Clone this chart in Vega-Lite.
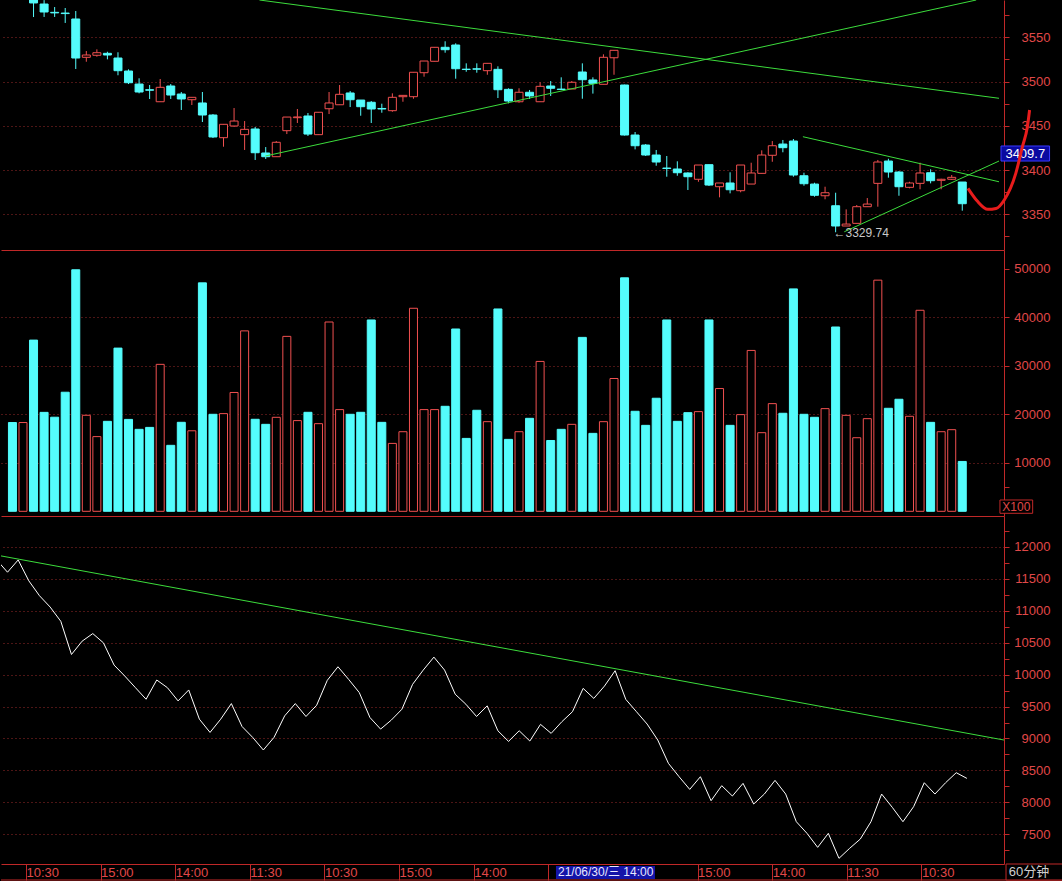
{
"$schema": "https://vega.github.io/schema/vega-lite/v6.json",
"background": "#000000",
"padding": 0,
"spacing": 0,
"bounds": "flush",
"config": {"view": {"stroke": null}, "font": "Liberation Sans",
  "axis": {"labelFont": "Liberation Sans", "labelFontSize": 13, "labelColor": "#E04848", "domainColor": "#C02828", "tickColor": "#C02828", "gridColor": "#9A2A2A", "gridDash": [1, 3], "labelOverlap": false, "labelFlush": false, "labelBound": false}},
"resolve": {"scale": {"x": "independent", "y": "independent"}},
"datasets": {
"k": [
{"i":0,"o":3615,"h":3618,"l":3601,"c":3605,"v":18300,"d":"dn"},
{"i":1,"o":3600,"h":3608,"l":3596,"c":3604,"v":18300,"d":"up"},
{"i":2,"o":3597,"h":3600,"l":3572.9,"c":3588.8,"v":35300,"d":"dn"},
{"i":3,"o":3587.6,"h":3592,"l":3573,"c":3578.6,"v":20400,"d":"dn"},
{"i":4,"o":3578.2,"h":3584.2,"l":3573,"c":3577.6,"v":19400,"d":"dn"},
{"i":5,"o":3577.4,"h":3583.1,"l":3566.2,"c":3576.8,"v":24550,"d":"dn"},
{"i":6,"o":3570.7,"h":3579.7,"l":3514.2,"c":3526.6,"v":49800,"d":"dn"},
{"i":7,"o":3527.4,"h":3534.5,"l":3522.4,"c":3530,"v":19800,"d":"up"},
{"i":8,"o":3529.7,"h":3536.4,"l":3528.1,"c":3532.6,"v":15400,"d":"up"},
{"i":9,"o":3531.9,"h":3533.7,"l":3525.1,"c":3530,"v":18550,"d":"dn"},
{"i":10,"o":3526.6,"h":3533.1,"l":3507.1,"c":3512.3,"v":33650,"d":"dn"},
{"i":11,"o":3511.9,"h":3513.8,"l":3497.2,"c":3498.7,"v":18950,"d":"dn"},
{"i":12,"o":3497.2,"h":3503.7,"l":3486.7,"c":3488.2,"v":16900,"d":"dn"},
{"i":13,"o":3490.8,"h":3496.1,"l":3480.3,"c":3490.2,"v":17300,"d":"dn"},
{"i":14,"o":3477.2,"h":3502.9,"l":3477.2,"c":3493.5,"v":30300,"d":"up"},
{"i":15,"o":3495,"h":3497.2,"l":3480.3,"c":3484.8,"v":13600,"d":"dn"},
{"i":16,"o":3485.9,"h":3488.2,"l":3467.9,"c":3480.3,"v":18350,"d":"dn"},
{"i":17,"o":3479.5,"h":3482.2,"l":3473.5,"c":3482.2,"v":16600,"d":"up"},
{"i":18,"o":3475.8,"h":3488.2,"l":3454.3,"c":3462.2,"v":47100,"d":"dn"},
{"i":19,"o":3462.2,"h":3463.3,"l":3436.2,"c":3437.4,"v":20000,"d":"dn"},
{"i":20,"o":3436.6,"h":3452,"l":3426.4,"c":3451.7,"v":20140,"d":"up"},
{"i":21,"o":3449.8,"h":3470.1,"l":3448.7,"c":3455.4,"v":24500,"d":"up"},
{"i":22,"o":3440,"h":3455.4,"l":3422.7,"c":3446,"v":37200,"d":"up"},
{"i":23,"o":3446.4,"h":3448.7,"l":3411.4,"c":3419.6,"v":18970,"d":"dn"},
{"i":24,"o":3419.3,"h":3426,"l":3412.5,"c":3415.1,"v":17930,"d":"dn"},
{"i":25,"o":3415.1,"h":3432.8,"l":3415.1,"c":3431.4,"v":19380,"d":"up"},
{"i":26,"o":3444.5,"h":3459.9,"l":3440.7,"c":3459.9,"v":36070,"d":"up"},
{"i":27,"o":3459.2,"h":3469,"l":3453.2,"c":3460,"v":18700,"d":"up"},
{"i":28,"o":3461.1,"h":3464.5,"l":3438.5,"c":3440.7,"v":20410,"d":"dn"},
{"i":29,"o":3440,"h":3465.3,"l":3440,"c":3465.3,"v":18070,"d":"up"},
{"i":30,"o":3469.3,"h":3488.2,"l":3463.3,"c":3475.8,"v":39030,"d":"up"},
{"i":31,"o":3473.8,"h":3496.1,"l":3473.8,"c":3485.6,"v":20970,"d":"up"},
{"i":32,"o":3487.1,"h":3489.3,"l":3471.2,"c":3479.5,"v":20000,"d":"dn"},
{"i":33,"o":3479.1,"h":3479.1,"l":3461.4,"c":3471.6,"v":20410,"d":"dn"},
{"i":34,"o":3476.6,"h":3478,"l":3453.2,"c":3469,"v":39450,"d":"dn"},
{"i":35,"o":3469.6,"h":3475,"l":3464.8,"c":3469,"v":18340,"d":"dn"},
{"i":36,"o":3467.1,"h":3486.7,"l":3465.9,"c":3482.2,"v":14000,"d":"up"},
{"i":37,"o":3482.9,"h":3484.4,"l":3477.2,"c":3484.4,"v":16410,"d":"up"},
{"i":38,"o":3482.9,"h":3510.5,"l":3480.6,"c":3510.5,"v":41860,"d":"up"},
{"i":39,"o":3510,"h":3523.2,"l":3505.5,"c":3523.2,"v":20970,"d":"up"},
{"i":40,"o":3522.9,"h":3538.7,"l":3522.9,"c":3538.7,"v":20970,"d":"up"},
{"i":41,"o":3538.7,"h":3545.5,"l":3532.6,"c":3536,"v":21650,"d":"dn"},
{"i":42,"o":3541.3,"h":3543.2,"l":3503.2,"c":3514.5,"v":37590,"d":"dn"},
{"i":43,"o":3514,"h":3520.6,"l":3511.1,"c":3513.6,"v":15030,"d":"dn"},
{"i":44,"o":3514.4,"h":3520.6,"l":3510,"c":3514,"v":20830,"d":"dn"},
{"i":45,"o":3512.3,"h":3520.6,"l":3507.7,"c":3520.6,"v":18480,"d":"up"},
{"i":46,"o":3513.8,"h":3517.2,"l":3481.4,"c":3490.8,"v":41720,"d":"dn"},
{"i":47,"o":3491.2,"h":3492.4,"l":3475.4,"c":3478,"v":14830,"d":"dn"},
{"i":48,"o":3477.2,"h":3492.4,"l":3476.1,"c":3487.9,"v":16410,"d":"up"},
{"i":49,"o":3487.9,"h":3490.5,"l":3480.3,"c":3483.7,"v":19170,"d":"dn"},
{"i":50,"o":3477.2,"h":3499.2,"l":3477.2,"c":3494.6,"v":30900,"d":"up"},
{"i":51,"o":3495,"h":3500.6,"l":3483.7,"c":3492.4,"v":14600,"d":"dn"},
{"i":52,"o":3491.5,"h":3504.8,"l":3490.5,"c":3491,"v":16900,"d":"dn"},
{"i":53,"o":3491.6,"h":3500.6,"l":3491.6,"c":3499.2,"v":17930,"d":"up"},
{"i":54,"o":3510.8,"h":3520.6,"l":3480.6,"c":3502.1,"v":35860,"d":"dn"},
{"i":55,"o":3501.8,"h":3504.8,"l":3486.4,"c":3498,"v":16070,"d":"dn"},
{"i":56,"o":3496.9,"h":3530.8,"l":3496.9,"c":3527.4,"v":18480,"d":"up"},
{"i":57,"o":3526.9,"h":3535.3,"l":3507.7,"c":3535.3,"v":27380,"d":"up"},
{"i":58,"o":3496.1,"h":3496.5,"l":3439,"c":3439.6,"v":48140,"d":"dn"},
{"i":59,"o":3439.6,"h":3443,"l":3423.4,"c":3427.5,"v":20620,"d":"dn"},
{"i":60,"o":3428.3,"h":3429.4,"l":3415.9,"c":3417,"v":17720,"d":"dn"},
{"i":61,"o":3417,"h":3422.7,"l":3404.9,"c":3409.1,"v":23310,"d":"dn"},
{"i":62,"o":3402.3,"h":3415.9,"l":3392.5,"c":3401.8,"v":39450,"d":"dn"},
{"i":63,"o":3401.2,"h":3409.9,"l":3393.6,"c":3397,"v":18550,"d":"dn"},
{"i":64,"o":3396.7,"h":3397.5,"l":3377.5,"c":3392.5,"v":20340,"d":"dn"},
{"i":65,"o":3389.6,"h":3405.7,"l":3386.8,"c":3405.7,"v":20550,"d":"up"},
{"i":66,"o":3406.1,"h":3406.1,"l":3382,"c":3383.1,"v":39450,"d":"dn"},
{"i":67,"o":3381.2,"h":3385.4,"l":3369.2,"c":3385.4,"v":25310,"d":"up"},
{"i":68,"o":3385.4,"h":3397.5,"l":3373.7,"c":3377.8,"v":17720,"d":"dn"},
{"i":69,"o":3376.7,"h":3405.7,"l":3374.9,"c":3405.7,"v":19930,"d":"up"},
{"i":70,"o":3384.2,"h":3408.3,"l":3384.2,"c":3396.7,"v":33170,"d":"up"},
{"i":71,"o":3396.3,"h":3422.3,"l":3396.3,"c":3417,"v":16210,"d":"up"},
{"i":72,"o":3416.7,"h":3432.8,"l":3409.4,"c":3427.5,"v":22200,"d":"up"},
{"i":73,"o":3429.4,"h":3434,"l":3420.1,"c":3425.3,"v":20210,"d":"dn"},
{"i":74,"o":3432.8,"h":3435.1,"l":3392.5,"c":3394.4,"v":45860,"d":"dn"},
{"i":75,"o":3393.6,"h":3397,"l":3382.3,"c":3384.6,"v":20000,"d":"dn"},
{"i":76,"o":3384.2,"h":3385.7,"l":3369.9,"c":3371.5,"v":19380,"d":"dn"},
{"i":77,"o":3371,"h":3381.2,"l":3367,"c":3374.4,"v":21170,"d":"up"},
{"i":78,"o":3359.7,"h":3374.4,"l":3329.74,"c":3336.8,"v":38000,"d":"dn"},
{"i":79,"o":3336.8,"h":3355.6,"l":3336.8,"c":3339,"v":19790,"d":"up"},
{"i":80,"o":3339.8,"h":3360.5,"l":3339.8,"c":3358.6,"v":15170,"d":"up"},
{"i":81,"o":3358.6,"h":3368.4,"l":3358.6,"c":3361.6,"v":19100,"d":"up"},
{"i":82,"o":3385,"h":3411.4,"l":3358.6,"c":3409.1,"v":47660,"d":"up"},
{"i":83,"o":3410.2,"h":3412.8,"l":3391.4,"c":3397.8,"v":21240,"d":"dn"},
{"i":84,"o":3397.8,"h":3398.9,"l":3371,"c":3381.2,"v":23100,"d":"dn"},
{"i":85,"o":3380.5,"h":3386.8,"l":3379.4,"c":3385.4,"v":19590,"d":"up"},
{"i":86,"o":3385,"h":3408.3,"l":3378.3,"c":3396.7,"v":41450,"d":"up"},
{"i":87,"o":3397,"h":3400.9,"l":3385,"c":3388,"v":18340,"d":"dn"},
{"i":88,"o":3388.4,"h":3390.2,"l":3378.3,"c":3389.6,"v":16410,"d":"up"},
{"i":89,"o":3389.6,"h":3394.4,"l":3388.8,"c":3391.8,"v":16830,"d":"up"},
{"i":90,"o":3386.5,"h":3386.5,"l":3354.1,"c":3362,"v":10280,"d":"dn"}
],
"obv": [
{"i":-1,"b":11790},{"i":0,"b":11601},{"i":1,"b":11793},{"i":2,"b":11466},{"i":3,"b":11233},{"i":4,"b":11056},{"i":5,"b":10833},{"i":6,"b":10314},{"i":7,"b":10522},{"i":8,"b":10641},{"i":9,"b":10496},{"i":10,"b":10148},{"i":11,"b":9977},{"i":12,"b":9795},{"i":13,"b":9614},{"i":14,"b":9915},{"i":15,"b":9795},{"i":16,"b":9588},{"i":17,"b":9759},{"i":18,"b":9302},{"i":19,"b":9095},{"i":20,"b":9302},{"i":21,"b":9546},{"i":22,"b":9188},{"i":23,"b":9017},{"i":24,"b":8820},{"i":25,"b":9017},{"i":26,"b":9354},{"i":27,"b":9546},{"i":28,"b":9344},{"i":29,"b":9520},{"i":30,"b":9910},{"i":31,"b":10122},{"i":32,"b":9925},{"i":33,"b":9718},{"i":34,"b":9328},{"i":35,"b":9147},{"i":36,"b":9287},{"i":37,"b":9458},{"i":38,"b":9847},{"i":39,"b":10070},{"i":40,"b":10273},{"i":41,"b":10070},{"i":42,"b":9692},{"i":43,"b":9536},{"i":44,"b":9344},{"i":45,"b":9510},{"i":46,"b":9121},{"i":47,"b":8955},{"i":48,"b":9121},{"i":49,"b":8960},{"i":50,"b":9221},{"i":51,"b":9080},{"i":52,"b":9262},{"i":53,"b":9419},{"i":54,"b":9784},{"i":55,"b":9627},{"i":56,"b":9820},{"i":57,"b":10060},{"i":58,"b":9612},{"i":59,"b":9419},{"i":60,"b":9226},{"i":61,"b":8976},{"i":62,"b":8611},{"i":63,"b":8402},{"i":64,"b":8204},{"i":65,"b":8402},{"i":66,"b":8027},{"i":67,"b":8262},{"i":68,"b":8100},{"i":69,"b":8298},{"i":70,"b":7975},{"i":71,"b":8131},{"i":72,"b":8345},{"i":73,"b":8131},{"i":74,"b":7698},{"i":75,"b":7516},{"i":76,"b":7297},{"i":77,"b":7516},{"i":78,"b":7125},{"i":79,"b":7282},{"i":80,"b":7427},{"i":81,"b":7698},{"i":82,"b":8131},{"i":83,"b":7923},{"i":84,"b":7698},{"i":85,"b":7933},{"i":86,"b":8308},{"i":87,"b":8131},{"i":88,"b":8308},{"i":89,"b":8465},{"i":90,"b":8376}
],
"tl": [
{"g":"a","i":23.4,"p":3592.15},{"g":"a","i":93.48,"p":3481.1},
{"g":"b","i":23.97,"p":3415.9},{"g":"b","i":91.32,"p":3592.15},
{"g":"c","i":74.9,"p":3437.7},{"g":"c","i":93.48,"p":3386.8},
{"g":"e","i":78.82,"p":3330.3},{"g":"e","i":93.48,"p":3410.2}
],
"og": [{"i":-0.61,"b":11855.8},{"i":93.48,"b":8975.7}],
"pen": [
{"i":90.54,"p":3379.4},{"i":91.42,"p":3365.0},{"i":92.42,"p":3355.6},{"i":93.2,"p":3356.6},{"i":93.98,"p":3366.2},{"i":95.07,"p":3396.3},{"i":95.7,"p":3426.4},{"i":96.17,"p":3449.0},{"i":96.38,"p":3467.9}
]
},
"vconcat": [
{
"width": 1003, "height": 250,
"resolve": {"axis": {"y": "independent"}},
"layer": [
{"data": {"name": "k"}, "mark": {"type": "point", "opacity": 0, "clip": true},
 "encoding": {
  "x": {"field": "i", "type": "quantitative", "scale": {"domain": [-0.61, 93.48], "nice": false, "zero": false}, "axis": {"orient": "bottom", "labels": false, "ticks": false, "grid": false, "domain": true, "title": null}},
  "y": {"field": "c", "type": "quantitative", "scale": {"domain": [3309.7, 3592.15], "nice": false, "zero": false},
        "axis": {"orient": "right", "title": null, "values": [3325,3375,3425,3475,3525,3575], "labels": false, "ticks": true, "tickSize": 5, "domain": false, "grid": false}}
 }},
{"layer": [
{"data": {"name": "k"}, "mark": {"type": "rule", "clip": true, "strokeWidth": 1},
 "encoding": {
  "x": {"field": "i", "type": "quantitative"},
  "y": {"field": "l", "type": "quantitative",
        "axis": {"orient": "right", "title": null, "values": [3350,3400,3450,3500,3550], "format": "d", "tickSize": 5, "labelPadding": 41, "labelAlign": "right", "labelBaseline": "middle", "grid": true}},
  "y2": {"field": "h"},
  "stroke": {"field": "d", "type": "nominal", "scale": {"domain": ["up", "dn"], "range": ["#F05050", "#54FCFC"]}, "legend": null}
 }},
{"data": {"name": "k"}, "mark": {"type": "bar", "clip": true, "size": 8, "strokeWidth": 1, "orient": "vertical"},
 "encoding": {
  "x": {"field": "i", "type": "quantitative"},
  "y": {"field": "o", "type": "quantitative"},
  "y2": {"field": "c"},
  "fill": {"field": "d", "type": "nominal", "scale": {"domain": ["up", "dn"], "range": ["#000000", "#54FCFC"]}, "legend": null},
  "stroke": {"field": "d", "type": "nominal", "legend": null}
 }},
{"data": {"name": "tl"}, "mark": {"type": "line", "clip": true, "color": "#3CDC3C", "strokeWidth": 1},
 "encoding": {"x": {"field": "i", "type": "quantitative"}, "y": {"field": "p", "type": "quantitative"}, "detail": {"field": "g"}}},
{"data": {"values": [{}]}, "mark": {"type": "rect", "clip": false, "fill": "#0A0AA0", "stroke": "#3A3AFF", "strokeWidth": 1},
 "encoding": {"x": {"datum": 93.67}, "x2": {"datum": 98.27}, "y": {"datum": 3427.2}, "y2": {"datum": 3410.2}}},
{"data": {"values": [{}]}, "mark": {"type": "text", "clip": false, "color": "#FFFFFF", "fontSize": 13, "font": "Liberation Sans", "align": "center", "baseline": "middle"},
 "encoding": {"x": {"datum": 95.97}, "y": {"datum": 3418.7}, "text": {"value": "3409.7"}}},
{"data": {"values": [{}]}, "mark": {"type": "text", "clip": false, "color": "#C8C8C8", "fontSize": 12, "font": "Liberation Sans", "align": "left", "baseline": "middle"},
 "encoding": {"x": {"datum": 77.8}, "y": {"datum": 3328.9}, "text": {"value": "←3329.74"}}},
{"data": {"name": "pen"}, "mark": {"type": "line", "clip": false, "color": "#E81C1C", "strokeWidth": 3, "interpolate": "monotone"},
 "encoding": {"x": {"field": "i", "type": "quantitative"}, "y": {"field": "p", "type": "quantitative"}}}
]}
]
},
{
"width": 1003, "height": 266,
"resolve": {"axis": {"y": "independent"}},
"layer": [
{"data": {"name": "k"}, "mark": {"type": "point", "opacity": 0, "clip": true},
 "encoding": {
  "x": {"field": "i", "type": "quantitative", "scale": {"domain": [-0.61, 93.48], "nice": false, "zero": false}, "axis": {"orient": "bottom", "labels": false, "ticks": false, "grid": false, "domain": true, "title": null}},
  "y": {"field": "v", "type": "quantitative", "scale": {"domain": [-969, 53876], "nice": false, "zero": false},
        "axis": {"orient": "right", "title": null, "values": [5000], "labels": false, "ticks": true, "tickSize": 5, "domain": false, "grid": false}}
 }},
{"resolve": {"axis": {"y": "independent"}},
 "layer": [
{"data": {"name": "k"}, "mark": {"type": "point", "opacity": 0, "clip": true},
 "encoding": {
  "x": {"field": "i", "type": "quantitative"},
  "y": {"field": "v", "type": "quantitative",
        "axis": {"orient": "left", "title": null, "values": [10000, 20000, 30000, 40000], "labels": false, "ticks": false, "domain": false, "grid": true}}
 }},
{"layer": [
{"data": {"name": "k"}, "mark": {"type": "bar", "size": 8, "strokeWidth": 1, "orient": "vertical", "clip": true},
 "encoding": {
  "x": {"field": "i", "type": "quantitative"},
  "y": {"field": "v", "type": "quantitative",
        "axis": {"orient": "right", "title": null, "values": [10000,15000,20000,25000,30000,35000,40000,45000,50000], "format": "d", "tickSize": 5, "labelPadding": 41, "labelAlign": "right", "labelBaseline": "middle", "grid": false}},
  "y2": {"datum": 0},
  "fill": {"field": "d", "type": "nominal", "scale": {"domain": ["up", "dn"], "range": ["#000000", "#54FCFC"]}, "legend": null},
  "stroke": {"field": "d", "type": "nominal", "scale": {"domain": ["up", "dn"], "range": ["#F05050", "#54FCFC"]}, "legend": null}
 }},
{"data": {"values": [{}]}, "mark": {"type": "rect", "clip": false, "fill": "#000000", "stroke": "#C02828", "strokeWidth": 1},
 "encoding": {"x": {"datum": 93.57}, "x2": {"datum": 96.67}, "y": {"datum": 2330}, "y2": {"datum": -412}}},
{"data": {"values": [{}]}, "mark": {"type": "text", "clip": false, "color": "#E04848", "fontSize": 12, "font": "Liberation Sans", "align": "center", "baseline": "middle"},
 "encoding": {"x": {"datum": 95.12}, "y": {"datum": 948}, "text": {"value": "X100"}}}
]}
]}
]
},
{
"width": 1003, "height": 348,
"resolve": {"axis": {"y": "independent"}},
"layer": [
{"data": {"name": "obv"}, "mark": {"type": "point", "opacity": 0, "clip": true},
 "encoding": {
  "x": {"field": "i", "type": "quantitative", "scale": {"domain": [-0.61, 93.48], "nice": false, "zero": false},
        "axis": {"orient": "bottom", "title": null, "values": [1.73, 8.73, 15.73, 22.73, 29.73, 36.73, 43.73, 50.73, 64.73, 71.73, 78.73, 85.73], "labelExpr": "datum.value > 50 && datum.value < 51 ? '' : ['10:30','15:00','14:00','11:30'][((round(datum.value + 0.27) - 2) / 7) % 4]", "ticks": true, "tickSize": 16, "labelPadding": -14, "labelAlign": "left", "labelBaseline": "top", "labelDx": 2, "grid": false, "domain": true}},
  "y": {"field": "b", "type": "quantitative", "scale": {"domain": [7036.7, 12480.2], "nice": false, "zero": false},
        "axis": {"orient": "right", "title": null, "values": [7250,7750,8250,8750,9250,9750,10250,10750,11250,11750,12250], "labels": false, "ticks": true, "tickSize": 5, "domain": false, "grid": false}}
 }},
{"resolve": {"axis": {"y": "independent"}},
 "layer": [
{"data": {"name": "obv"}, "mark": {"type": "point", "opacity": 0, "clip": true},
 "encoding": {
  "x": {"field": "i", "type": "quantitative"},
  "y": {"field": "b", "type": "quantitative",
        "axis": {"orient": "right", "title": null, "values": [8000,9000,10000,11000,12000], "format": "d", "tickSize": 5, "labelPadding": 41, "labelAlign": "right", "labelBaseline": "middle", "grid": true, "domain": false}}
 }},
{"layer": [
{"data": {"name": "obv"}, "mark": {"type": "line", "clip": true, "color": "#FFFFFF", "strokeWidth": 1},
 "encoding": {
  "x": {"field": "i", "type": "quantitative"},
  "y": {"field": "b", "type": "quantitative",
        "axis": {"orient": "right", "title": null, "values": [7500,8500,9500,10500,11500], "format": "d", "tickSize": 5, "labelPadding": 41, "labelAlign": "right", "labelBaseline": "middle", "grid": true}}
 }},
{"data": {"name": "og"}, "mark": {"type": "line", "clip": true, "color": "#3CDC3C", "strokeWidth": 1},
 "encoding": {"x": {"field": "i", "type": "quantitative"}, "y": {"field": "b", "type": "quantitative"}}},
{"data": {"values": [{}]}, "mark": {"type": "rule", "clip": false, "color": "#C02828", "strokeWidth": 1},
 "encoding": {"x": {"datum": -0.61}, "x2": {"datum": 99.1}, "y": {"datum": 6786.5}}},
{"data": {"values": [{}]}, "mark": {"type": "rect", "clip": false, "fill": "#1414A8"},
 "encoding": {"x": {"datum": 51.45}, "x2": {"datum": 60.74}, "y": {"datum": 7005.4}, "y2": {"datum": 6802.1}}},
{"data": {"values": [{}]}, "mark": {"type": "text", "clip": false, "color": "#E8E8FF", "fontSize": 12, "font": "Liberation Sans, Noto Sans CJK SC", "align": "left", "baseline": "middle"},
 "encoding": {"x": {"datum": 51.64}, "y": {"datum": 6911}, "text": {"value": "21/06/30/三 14:00"}}},
{"data": {"values": [{}]}, "mark": {"type": "rect", "clip": false, "fill": "#000000", "stroke": "#C02828", "strokeWidth": 1},
 "encoding": {"x": {"datum": 93.67}, "x2": {"datum": 99.1}, "y": {"datum": 7036.7}, "y2": {"datum": 6786.5}}},
{"data": {"values": [{}]}, "mark": {"type": "text", "clip": false, "color": "#D0D0D0", "fontSize": 13, "font": "Liberation Sans, Noto Sans CJK SC", "align": "center", "baseline": "middle"},
 "encoding": {"x": {"datum": 95.83}, "y": {"datum": 6911}, "text": {"value": "60分钟"}}}
]}
]}
]
}
]
}
